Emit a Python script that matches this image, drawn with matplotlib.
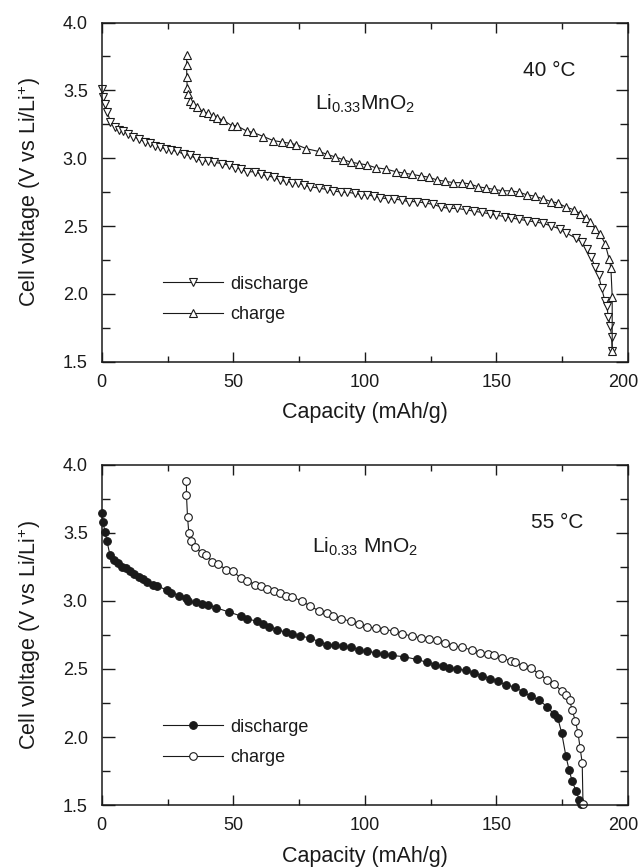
import numpy as np
import matplotlib
matplotlib.use('Agg')
import matplotlib.pyplot as plt
from matplotlib.transforms import ScaledTranslation

plt.rcParams['font.family'] = ['Liberation Sans', 'DejaVu Sans']
plt.rcParams['mathtext.default'] = 'regular'

# 40 C data
dis40_x = [0.0, 0.4, 1.2, 2.1, 3.3, 5.0, 6.7, 8.2, 10.1, 12.0, 14.3, 16.4, 18.4, 20.3, 22.2,
           24.5, 26.4, 28.7, 31.1, 33.4, 35.7, 38.1, 40.4, 42.7, 45.8, 48.2, 50.5, 52.8, 55.2,
           58.3, 60.6, 62.9, 65.3, 67.6, 69.9, 72.3, 74.6, 76.9, 79.3, 82.4, 85.5, 87.8, 90.9,
           93.2, 96.3, 98.7, 101.0, 103.3, 105.7, 108.8, 111.1, 114.2, 116.6, 119.7, 122.8,
           125.9, 129.0, 132.1, 135.2, 138.3, 141.4, 144.5, 147.6, 150.0, 153.1, 155.4, 158.5,
           161.6, 164.7, 167.8, 170.9, 174.0, 176.4, 180.3, 182.5, 184.3, 186.0, 187.5, 188.8,
           190.0, 191.2, 192.0, 192.5, 193.3, 193.8, 194.0]
dis40_v = [3.51, 3.45, 3.40, 3.34, 3.27, 3.23, 3.21, 3.20, 3.18, 3.16, 3.14, 3.12, 3.11, 3.09, 3.08,
           3.07, 3.06, 3.05, 3.03, 3.02, 3.00, 2.98, 2.98, 2.97, 2.96, 2.95, 2.93, 2.92, 2.90,
           2.90, 2.88, 2.87, 2.86, 2.84, 2.83, 2.82, 2.82, 2.80, 2.79, 2.78, 2.77, 2.76, 2.75,
           2.75, 2.74, 2.73, 2.73, 2.72, 2.71, 2.70, 2.70, 2.69, 2.68, 2.68, 2.67,
           2.66, 2.64, 2.63, 2.63, 2.62, 2.61, 2.60, 2.59, 2.58, 2.57, 2.56, 2.55,
           2.54, 2.53, 2.52, 2.50, 2.48, 2.45, 2.41, 2.38, 2.33, 2.27, 2.20, 2.14,
           2.04, 1.95, 1.91, 1.83, 1.76, 1.68, 1.58]

chg40_x = [32.3, 32.3, 32.3, 32.5, 32.9, 33.5, 34.6, 36.1, 38.6, 40.5, 42.1, 43.7, 46.2, 49.4,
           51.3, 55.1, 57.6, 61.4, 65.2, 68.4, 71.5, 74.0, 77.8, 82.4, 85.5, 88.6, 91.7, 94.8,
           97.9, 101.0, 104.1, 108.0, 111.9, 115.0, 118.1, 121.2, 124.3, 127.4, 130.5, 133.6,
           136.8, 139.9, 143.0, 146.1, 149.2, 152.3, 155.4, 158.5, 161.6, 164.7, 167.8, 170.9,
           173.3, 176.4, 179.5, 181.8, 184.0, 185.6, 187.5, 189.4, 191.3, 192.8, 193.5, 194.0, 194.0]
chg40_v = [3.76, 3.69, 3.60, 3.52, 3.47, 3.42, 3.40, 3.38, 3.34, 3.33, 3.31, 3.30, 3.28, 3.24,
           3.24, 3.20, 3.19, 3.16, 3.13, 3.12, 3.11, 3.10, 3.07, 3.05, 3.03, 3.01, 2.99, 2.97,
           2.96, 2.95, 2.93, 2.92, 2.90, 2.89, 2.88, 2.87, 2.86, 2.84, 2.83, 2.82,
           2.82, 2.81, 2.79, 2.78, 2.77, 2.76, 2.76, 2.75, 2.73, 2.72, 2.70, 2.68,
           2.67, 2.64, 2.62, 2.59, 2.56, 2.53, 2.48, 2.44, 2.37, 2.26, 2.19, 1.98, 1.58]

# 55 C data
dis55_x = [0.0, 0.5, 1.2, 2.0, 3.1, 4.7, 6.2, 7.8, 9.3, 10.9, 12.4, 14.0, 15.5, 17.1, 19.4, 21.0,
           24.9, 26.4, 29.5, 31.9, 32.6, 35.7, 38.1, 40.4, 43.5, 48.2, 52.8, 55.2, 59.1, 61.4,
           63.7, 66.8, 69.9, 72.3, 75.4, 79.3, 82.4, 85.5, 88.6, 91.7, 94.8, 97.9, 101.0, 104.1,
           107.2, 110.3, 115.0, 119.7, 123.5, 126.7, 129.8, 132.1, 135.2, 138.3, 141.4, 144.5,
           147.6, 150.7, 153.8, 156.9, 160.1, 163.2, 166.3, 169.4, 171.7, 173.3, 174.8, 176.4,
           177.6, 178.7, 180.3, 181.5, 182.3]
dis55_v = [3.65, 3.58, 3.51, 3.44, 3.34, 3.30, 3.28, 3.25, 3.24, 3.22, 3.20, 3.18, 3.16, 3.14, 3.12, 3.11,
           3.08, 3.06, 3.04, 3.02, 3.00, 2.99, 2.98, 2.97, 2.95, 2.92, 2.89, 2.87, 2.85, 2.83,
           2.81, 2.79, 2.77, 2.76, 2.74, 2.73, 2.70, 2.68, 2.68, 2.67, 2.66, 2.64, 2.63, 2.62,
           2.61, 2.60, 2.59, 2.57, 2.55, 2.53, 2.52, 2.51, 2.50, 2.49, 2.47, 2.45,
           2.43, 2.41, 2.38, 2.37, 2.33, 2.30, 2.27, 2.22, 2.17, 2.14, 2.03, 1.86,
           1.76, 1.68, 1.60, 1.54, 1.51]

chg55_x = [32.2, 32.2, 32.6, 33.1, 33.9, 35.4, 38.1, 39.6, 42.0, 44.3, 47.4, 49.7, 52.8, 55.2,
           58.3, 60.6, 62.9, 65.3, 67.6, 69.9, 72.3, 76.1, 79.3, 82.4, 85.5, 87.8, 90.9, 94.8,
           97.9, 101.0, 104.1, 107.2, 111.1, 114.2, 118.1, 121.2, 124.3, 127.4, 130.5, 133.6,
           136.8, 140.6, 143.7, 146.9, 149.2, 152.3, 155.4, 156.9, 160.1, 163.2, 166.3, 169.4,
           171.7, 174.8, 176.4, 177.9, 178.7, 180.0, 181.0, 181.8, 182.6, 182.9]
chg55_v = [3.88, 3.78, 3.62, 3.50, 3.44, 3.40, 3.35, 3.34, 3.29, 3.27, 3.23, 3.22, 3.17, 3.15,
           3.12, 3.11, 3.09, 3.07, 3.06, 3.04, 3.03, 3.00, 2.96, 2.93, 2.91, 2.89, 2.87, 2.85,
           2.83, 2.81, 2.80, 2.79, 2.78, 2.76, 2.74, 2.73, 2.72, 2.71, 2.69, 2.67,
           2.66, 2.64, 2.62, 2.61, 2.60, 2.58, 2.56, 2.55, 2.52, 2.51, 2.46, 2.42,
           2.39, 2.34, 2.31, 2.27, 2.20, 2.12, 2.03, 1.92, 1.81, 1.51]

ink = '#1a1a1a'

fig = plt.figure(figsize=(6.41, 8.67), dpi=100)
ax1 = fig.add_axes([0.1587, 0.5828, 0.821, 0.3912])
ax2 = fig.add_axes([0.1587, 0.0715, 0.821, 0.3922])

def style(ax):
    ax.set_xlim(0, 200)
    ax.set_ylim(1.5, 4.0)
    ax.set_xticks([0, 50, 100, 150, 200])
    ax.set_xticks([25, 75, 125, 175], minor=True)
    ax.set_yticks([1.5, 2.0, 2.5, 3.0, 3.5, 4.0])
    ax.set_yticks([1.75, 2.25, 2.75, 3.25, 3.75], minor=True)
    ax.set_yticklabels(['1.5', '2.0', '2.5', '3.0', '3.5', '4.0'])
    ax.tick_params(axis='both', which='both', direction='in', top=True, right=True,
                   colors=ink, width=1.0, labelsize=13)
    ax.tick_params(axis='x', which='major', length=7.5, pad=8.5)
    ax.tick_params(axis='x', which='minor', length=4)
    ax.tick_params(axis='y', which='major', length=9, pad=10)
    ax.tick_params(axis='y', which='minor', length=5.5)
    for s in ax.spines.values():
        s.set_linewidth(1.1)
        s.set_color(ink)
    ax.set_xlabel('Capacity (mAh/g)', fontsize=15.5, color=ink, labelpad=8.5)
    ax.set_ylabel('Cell voltage (V vs Li/Li$^{+}$)', fontsize=15.5, color=ink)
    ax.yaxis.set_label_coords(-0.112, 0.5)
    # last x label sits a bit left so it stays inside the figure
    last = ax.xaxis.get_major_ticks()[-1].label1
    last.set_transform(last.get_transform() + ScaledTranslation(-0.045, 0, fig.dpi_scale_trans))

style(ax1)
style(ax2)

ax1.plot(dis40_x, dis40_v, color=ink, lw=0.8, marker='v', ms=5.5, mfc='white', mec=ink,
         mew=0.8, label='discharge', clip_on=False)
ax1.plot(chg40_x, chg40_v, color=ink, lw=0.8, marker='^', ms=5.5, mfc='white', mec=ink,
         mew=0.8, label='charge', clip_on=False)
ax1.text(170, 3.65, '40 °C', fontsize=15, color=ink, ha='center', va='center')
ax1.text(100, 3.40, 'Li$_{0.33}$MnO$_2$', fontsize=15, color=ink, ha='center', va='center')

ax2.plot(dis55_x, dis55_v, color=ink, lw=0.8, marker='o', ms=5.5, mfc=ink, mec=ink,
         mew=0.8, label='discharge', clip_on=False)
ax2.plot(chg55_x, chg55_v, color=ink, lw=0.8, marker='o', ms=5.5, mfc='white', mec=ink,
         mew=0.8, label='charge', clip_on=False)
ax2.text(173, 3.58, '55 °C', fontsize=15, color=ink, ha='center', va='center')
ax2.text(100, 3.40, 'Li$_{0.33}$ MnO$_2$', fontsize=15, color=ink, ha='center', va='center')

for ax in (ax1, ax2):
    leg = ax.legend(loc='upper left', bbox_to_anchor=(0.1165, 0.254), frameon=False,
                    fontsize=13, handlelength=3.3, handletextpad=0.45, labelspacing=0.75,
                    borderpad=0, borderaxespad=0)
    for t in leg.get_texts():
        t.set_color(ink)

fig.savefig('out.png', dpi=100)
